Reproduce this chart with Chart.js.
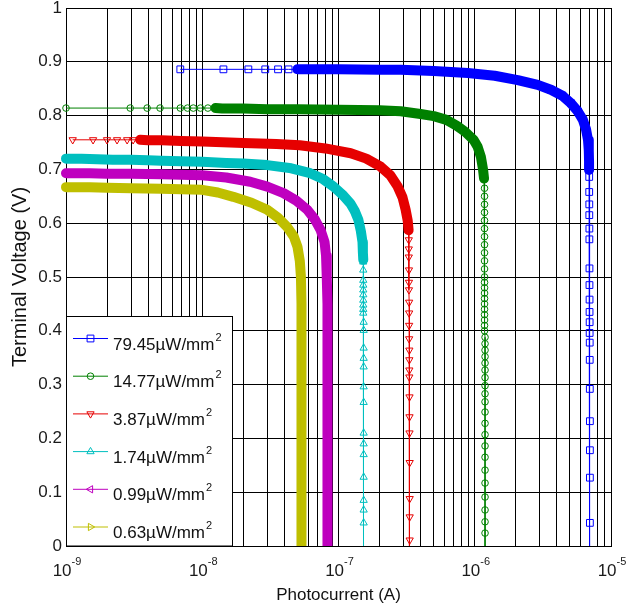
<!DOCTYPE html>
<html><head><meta charset="utf-8">
<script src="https://cdn.jsdelivr.net/npm/chart.js@4.4.1/dist/chart.umd.min.js"></script>
<style>html,body{margin:0;padding:0;background:#fff}canvas{display:block}</style>
</head><body>
<canvas id="c" width="636" height="611"></canvas>
<script>
// ---------- data ----------
const seriesNames = ['79.45\u00B5W/mm', '14.77\u00B5W/mm', '3.87\u00B5W/mm', '1.74\u00B5W/mm', '0.99\u00B5W/mm', '0.63\u00B5W/mm'];
const xTickExponents = [-9, -8, -7, -6, -5];

// 79.45 uW/mm2
const iBlue = [6.9e-9, 1.43e-8, 2.18e-8, 2.9e-8, 3.6e-8, 4.3e-8, 5e-8, 6e-8, 7e-8, 1e-7, 2e-7, 2.86e-7, 5e-7, 8.9e-7, 1.4e-6, 2.07e-6, 2.9e-6, 3.62e-6, 4.4e-6, 5.08e-6, 5.7e-6, 6.22e-6, 6.55e-6, 6.78e-6, 6.87e-6, 6.9e-6, 6.9e-6,
  6.92e-6, 6.92e-6, 6.93e-6, 6.93e-6, 6.94e-6, 6.94e-6, 6.95e-6, 6.95e-6, 6.96e-6, 6.96e-6, 6.97e-6, 6.97e-6, 6.98e-6, 6.98e-6, 6.99e-6, 7.0e-6, 7.0e-6, 7.0e-6, 7.0e-6, 7.0e-6];
const vBlue = [0.886, 0.886, 0.886, 0.886, 0.886, 0.886, 0.886, 0.886, 0.886, 0.886, 0.885, 0.885, 0.883, 0.879, 0.874, 0.866, 0.857, 0.848, 0.837, 0.823, 0.808, 0.792, 0.775, 0.755, 0.735, 0.715, 0.699,
  0.686, 0.658, 0.635, 0.615, 0.59, 0.57, 0.516, 0.485, 0.458, 0.435, 0.416, 0.396, 0.378, 0.346, 0.292, 0.232, 0.178, 0.127, 0.043, -0.02];

// 14.77 uW/mm2
const iGreen = [1e-9, 2.96e-9, 3.94e-9, 4.9e-9, 6.9e-9, 7.8e-9, 8.6e-9, 9.7e-9, 1.1e-8, 1.25e-8, 1.4e-8, 1.6e-8, 2e-8, 3e-8, 5e-8, 1e-7, 2e-7, 2.86e-7, 4e-7, 5e-7, 6.2e-7, 7.4e-7, 8.5e-7, 9.8e-7, 1.05e-6, 1.11e-6, 1.15e-6, 1.17e-6,
  1.18e-6, 1.18e-6, 1.18e-6, 1.18e-6, 1.18e-6, 1.18e-6, 1.18e-6, 1.18e-6, 1.18e-6, 1.18e-6, 1.18e-6, 1.18e-6, 1.18e-6, 1.18e-6, 1.18e-6, 1.18e-6, 1.18e-6, 1.18e-6, 1.18e-6, 1.18e-6, 1.18e-6, 1.18e-6,
  1.19e-6, 1.19e-6, 1.19e-6, 1.19e-6, 1.19e-6, 1.19e-6, 1.19e-6, 1.19e-6, 1.19e-6, 1.19e-6, 1.19e-6, 1.19e-6, 1.19e-6, 1.19e-6, 1.19e-6, 1.19e-6, 1.19e-6, 1.19e-6, 1.19e-6, 1.19e-6, 1.19e-6, 1.19e-6];
const vGreen = [0.814, 0.814, 0.814, 0.814, 0.814, 0.814, 0.814, 0.814, 0.814, 0.814, 0.813, 0.813, 0.813, 0.812, 0.812, 0.811, 0.81, 0.808, 0.803, 0.799, 0.792, 0.781, 0.77, 0.755, 0.742, 0.723, 0.70, 0.683,
  0.665, 0.65, 0.635, 0.62, 0.605, 0.59, 0.575, 0.56, 0.545, 0.53, 0.515, 0.50, 0.49, 0.48, 0.47, 0.46, 0.45, 0.44, 0.43, 0.42, 0.41, 0.40,
  0.388, 0.376, 0.364, 0.352, 0.34, 0.327, 0.313, 0.298, 0.283, 0.268, 0.249, 0.228, 0.207, 0.186, 0.165, 0.141, 0.117, 0.091, 0.067, 0.045, 0.024, -0.02];

// 3.87 uW/mm2
const iRed = [1.12e-9, 1.58e-9, 2.0e-9, 2.37e-9, 2.81e-9, 3.11e-9, 3.5e-9, 4e-9, 5e-9, 7e-9, 1e-8, 2e-8, 3.5e-8, 5.2e-8, 8e-8, 1.23e-7, 1.6e-7, 2.04e-7, 2.4e-7, 2.72e-7, 2.95e-7, 3.11e-7, 3.22e-7, 3.27e-7,
  3.28e-7, 3.28e-7, 3.28e-7, 3.29e-7, 3.29e-7, 3.29e-7, 3.3e-7, 3.3e-7, 3.3e-7, 3.3e-7, 3.31e-7, 3.31e-7, 3.31e-7, 3.31e-7, 3.32e-7, 3.32e-7, 3.32e-7, 3.33e-7, 3.33e-7, 3.33e-7, 3.33e-7, 3.33e-7];
const vRed = [0.755, 0.755, 0.755, 0.755, 0.755, 0.755, 0.755, 0.754, 0.754, 0.753, 0.752, 0.749, 0.747, 0.745, 0.739, 0.73, 0.72, 0.705, 0.689, 0.668, 0.648, 0.625, 0.605, 0.587,
  0.569, 0.552, 0.537, 0.513, 0.49, 0.476, 0.453, 0.433, 0.41, 0.385, 0.364, 0.346, 0.327, 0.314, 0.277, 0.24, 0.21, 0.155, 0.088, 0.054, 0.011, -0.02];

// 1.74 uW/mm2
const iCyan = [1e-9, 1.3e-9, 1.7e-9, 2.2e-9, 3e-9, 4e-9, 5e-9, 7e-9, 1e-8, 1.5e-8, 2e-8, 3e-8, 4.5e-8, 6.2e-8, 7.7e-8, 9.2e-8, 1.07e-7, 1.22e-7, 1.32e-7, 1.4e-7, 1.46e-7, 1.5e-7, 1.51e-7, 1.52e-7,
  1.52e-7, 1.52e-7, 1.52e-7, 1.52e-7, 1.52e-7, 1.52e-7, 1.52e-7, 1.52e-7, 1.52e-7, 1.52e-7, 1.53e-7, 1.53e-7, 1.53e-7, 1.53e-7, 1.53e-7, 1.53e-7, 1.53e-7, 1.53e-7, 1.53e-7, 1.53e-7, 1.53e-7, 1.53e-7, 1.53e-7, 1.53e-7, 1.53e-7];
const vCyan = [0.72, 0.72, 0.719, 0.718, 0.718, 0.717, 0.716, 0.715, 0.714, 0.712, 0.711, 0.708, 0.702, 0.693, 0.682, 0.668, 0.653, 0.637, 0.622, 0.606, 0.585, 0.565, 0.545, 0.532,
  0.528, 0.513, 0.494, 0.485, 0.476, 0.467, 0.457, 0.448, 0.44, 0.433, 0.416, 0.401, 0.368, 0.349, 0.333, 0.296, 0.267, 0.21, 0.19, 0.17, 0.128, 0.085, 0.067, 0.043, -0.02];

// 0.99 uW/mm2
const iMagenta = [1e-9, 1.5e-9, 2e-9, 3e-9, 5e-9, 7e-9, 1e-8, 1.5e-8, 2.25e-8, 3e-8, 3.95e-8, 4.9e-8, 5.9e-8, 6.7e-8, 7.4e-8, 7.9e-8, 8.1e-8, 8.2e-8,
  8.3e-8, 8.3e-8, 8.3e-8, 8.3e-8, 8.3e-8, 8.3e-8, 8.3e-8, 8.3e-8, 8.3e-8, 8.3e-8, 8.3e-8];
const vMagenta = [0.693, 0.693, 0.692, 0.692, 0.691, 0.69, 0.689, 0.685, 0.677, 0.668, 0.656, 0.642, 0.625, 0.607, 0.587, 0.565, 0.54, 0.5,
  0.45, 0.4, 0.35, 0.3, 0.25, 0.2, 0.15, 0.1, 0.05, 0.0, -0.02];

// 0.63 uW/mm2
const iYellow = [1e-9, 1.5e-9, 2e-9, 3e-9, 5e-9, 7e-9, 1e-8, 1.3e-8, 1.69e-8, 2.3e-8, 3e-8, 3.6e-8, 4.2e-8, 4.7e-8, 5e-8, 5.2e-8, 5.3e-8,
  5.35e-8, 5.35e-8, 5.35e-8, 5.35e-8, 5.35e-8, 5.35e-8, 5.35e-8, 5.35e-8, 5.35e-8, 5.35e-8, 5.35e-8];
const vYellow = [0.667, 0.667, 0.666, 0.665, 0.664, 0.663, 0.662, 0.657, 0.649, 0.638, 0.625, 0.61, 0.593, 0.575, 0.556, 0.53, 0.5,
  0.45, 0.4, 0.35, 0.3, 0.25, 0.2, 0.15, 0.1, 0.05, 0.0, -0.02];

const currents = [iBlue, iGreen, iRed, iCyan, iMagenta, iYellow];
const voltages = [vBlue, vGreen, vRed, vCyan, vMagenta, vYellow];

// ---------- styles ----------
const FONT = 'Liberation Sans, Arial, Helvetica, sans-serif';
const styles = [
  {color: 'rgb(0,0,255)',   point: 'rect',     rot: 0,   r: 4.8, bandFrom: 5e-8,    bandFloor: 0.695},
  {color: 'rgb(0,128,0)',   point: 'circle',   rot: 0,   r: 3.3, bandFrom: 1.2e-8,  bandFloor: 0.675},
  {color: 'rgb(230,0,0)',   point: 'triangle', rot: 180, r: 4.2, bandFrom: 3.3e-9,  bandFloor: 0.58},
  {color: 'rgb(0,191,191)', point: 'triangle', rot: 0,   r: 4.2, bandFrom: 0,       bandFloor: 0.53},
  {color: 'rgb(191,0,191)', point: 'triangle', rot: -90, r: 4.2, bandFrom: 0,       bandFloor: -1},
  {color: 'rgb(191,191,0)', point: 'triangle', rot: 90,  r: 4.2, bandFrom: 0,       bandFloor: -1}
];
const BAND = 10;

function pts(k) { return currents[k].map((c, j) => ({x: c, y: voltages[k][j]})); }

const datasets = [];
styles.forEach((st, k) => {
  // dense-marker band
  datasets.push({
    label: '_band' + k, data: pts(k), showLine: true, order: 20 - k,
    borderColor: st.color, borderWidth: BAND, pointRadius: 0, pointHoverRadius: 0,
    borderCapStyle: 'round', borderJoinStyle: 'round',
    clip: {left: 6, top: 6, right: 6, bottom: 0},
    segment: {
      borderColor: c => {
        const a = c.p0.parsed, b = c.p1.parsed;
        return (a.x >= st.bandFrom && a.y >= st.bandFloor && b.y >= st.bandFloor) ? st.color : 'rgba(0,0,0,0)';
      }
    }
  });
  // line + hollow markers
  datasets.push({
    label: seriesNames[k], data: pts(k), showLine: true, order: 10 - k,
    borderColor: st.color, borderWidth: 1,
    pointStyle: st.point, pointRotation: st.rot, pointRadius: st.r,
    pointBorderColor: st.color, pointBorderWidth: 1, pointBackgroundColor: 'rgba(0,0,0,0)',
    clip: {left: 6, top: 6, right: 6, bottom: 0}
  });
});

const GRID = '#000';

const overlay = {
  id: 'overlay',
  afterDraw(chart) {
    const ctx = chart.ctx, xs = chart.scales.x;
    ctx.save();
    // x tick labels 10^n
    ctx.fillStyle = '#1a1a1a';
    ctx.textBaseline = 'alphabetic';
    ctx.textAlign = 'left';
    xTickExponents.forEach(e => {
      const px = xs.getPixelForValue(Math.pow(10, e));
      ctx.font = '17px ' + FONT;
      const w1 = ctx.measureText('10').width;
      ctx.font = '11px ' + FONT;
      const ex = String(e);
      const w2 = ctx.measureText(ex).width;
      const x0 = px - (w1 + w2) / 2 + 1;
      ctx.font = '17px ' + FONT;
      ctx.fillText('10', x0, 576);
      ctx.font = '11px ' + FONT;
      ctx.fillText(ex, x0 + w1, 565);
    });
    // legend box
    const lx = 66.5, ly = 316.5, lw = 166, lh = 229.5;
    ctx.fillStyle = '#fff';
    ctx.fillRect(lx, ly, lw, lh);
    ctx.strokeStyle = '#000';
    ctx.lineWidth = 1;
    ctx.strokeRect(lx, ly, lw, lh);
    styles.forEach((st, k) => {
      const y = 338.5 + k * 37.7;
      ctx.strokeStyle = st.color;
      ctx.lineWidth = 1;
      ctx.beginPath(); ctx.moveTo(73, y); ctx.lineTo(108, y); ctx.stroke();
      ctx.fillStyle = 'rgba(0,0,0,0)';
      Chart.helpers.drawPoint(ctx, {pointStyle: st.point, rotation: st.rot, radius: st.r, borderWidth: 1}, 90.5, y);
      ctx.fillStyle = '#111';
      ctx.font = '17px ' + FONT;
      ctx.fillText(seriesNames[k], 113, y + 11);
      const w = ctx.measureText(seriesNames[k]).width;
      ctx.font = '11px ' + FONT;
      ctx.fillText('2', 113 + w + 1, y + 2);
    });
    ctx.restore();
  }
};

new Chart(document.getElementById('c'), {
  type: 'scatter',
  data: {datasets},
  options: {
    responsive: false, animation: false, devicePixelRatio: 1,
    layout: {padding: {top: 8, right: 25, left: 0, bottom: 0}},
    plugins: {legend: {display: false}, tooltip: {enabled: false}},
    scales: {
      x: {
        type: 'logarithmic', min: 1e-9, max: 1e-5,
        afterBuildTicks: s => {
          const t = [];
          xTickExponents.forEach((e, n) => {
            const lim = n === xTickExponents.length - 1 ? 1 : 9;
            for (let m = 1; m <= lim; m++) t.push({value: m * Math.pow(10, e)});
          });
          s.ticks = t;
        },
        afterFit: s => { s.height = 65; s.paddingLeft = 0; s.paddingRight = 0; },
        ticks: {display: false},
        grid: {color: GRID, lineWidth: 1, drawTicks: false},
        border: {color: '#000', width: 1},
        title: {display: true, text: 'Photocurrent (A)', color: '#111', font: {family: FONT, size: 17}, padding: {top: 0, bottom: 5}}
      },
      y: {
        min: 0, max: 1,
        afterFit: s => { s.width = 66; s.paddingTop = 0; s.paddingBottom = 0; },
        ticks: {stepSize: 0.1, padding: 4, color: '#1a1a1a', font: {family: FONT, size: 17},
          callback: v => String(+v.toFixed(1))},
        grid: {color: GRID, lineWidth: 1, drawTicks: false},
        border: {color: '#000', width: 1},
        title: {display: true, text: 'Terminal Voltage (V)', color: '#111', font: {family: FONT, size: 20}, padding: {top: 8, bottom: 0}}
      }
    }
  },
  plugins: [overlay]
});
</script>
</body></html>
